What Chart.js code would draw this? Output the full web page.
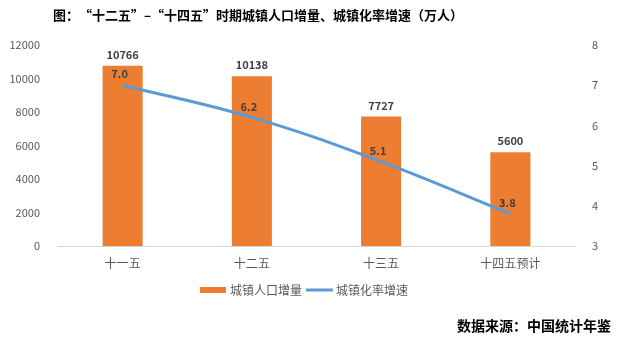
<!DOCTYPE html>
<html>

<head>
    <meta charset="utf-8">
    <title>城镇人口增量</title>
    <style>
        body { margin: 0; background: #fff; }
    </style>
</head>

<body>
    <canvas id="myChart1" width="618" height="339"></canvas>
    <script src="https://cdn.jsdelivr.net/npm/chart.js@4.4.6/dist/chart.umd.min.js"></script>
    <script>
        const categories = ["十一五", "十二五", "十三五", "十四五预计"]
        const popIncrease = [10766, 10138, 7727, 5600]
        const urbanRate = [7.0, 6.2, 5.1, 3.8]
        const leftTicks = [0, 2000, 4000, 6000, 8000, 10000, 12000]
        const rightTicks = [3, 4, 5, 6, 7, 8]

        const COLORS = {
            orange: "#ED7D31",
            blue: "#5B9BD5",
            tick: "#595959",
            label: "#404040",
        }
        const FONT = "'Noto Sans CJK SC', 'Microsoft YaHei', sans-serif"

        document.addEventListener("DOMContentLoaded", () => {
            const element = document.getElementById("myChart1")

            // title, data labels, legend and source note
            const extras = {
                id: "extras",
                afterDatasetsDraw(chart) {
                    const ctx = chart.ctx
                    ctx.save()
                    ctx.textAlign = "center"
                    ctx.textBaseline = "middle"

                    ctx.font = "bold 11px " + FONT
                    ctx.fillStyle = COLORS.label
                    chart.getDatasetMeta(0).data.forEach((bar, i) => {
                        ctx.fillText(String(popIncrease[i]), bar.x, bar.y - 11)
                    })
                    chart.getDatasetMeta(1).data.forEach((pt, i) => {
                        ctx.fillText(urbanRate[i].toFixed(1), pt.x - 3, pt.y - 11)
                    })

                    ctx.font = "bold 13px " + FONT
                    ctx.fillStyle = "#000"
                    ctx.fillText("图：“十二五”–“十四五”时期城镇人口增量、城镇化率增速（万人）", 258, 15)

                    ctx.textAlign = "right"
                    ctx.font = "bold 14px " + FONT
                    ctx.fillText("数据来源：中国统计年鉴", 611, 326)

                    // legend
                    ctx.textAlign = "left"
                    ctx.font = "12px " + FONT
                    ctx.fillStyle = COLORS.orange
                    ctx.fillRect(200, 287, 26, 6)
                    ctx.fillStyle = COLORS.tick
                    ctx.fillText(chart.data.datasets[0].label, 230, 290)
                    ctx.strokeStyle = COLORS.blue
                    ctx.lineWidth = 3
                    ctx.beginPath()
                    ctx.moveTo(306, 290)
                    ctx.lineTo(333, 290)
                    ctx.stroke()
                    ctx.fillText(chart.data.datasets[1].label, 336, 290)
                    ctx.restore()
                },
            }

            const config = {
                data: {
                    labels: categories,
                    datasets: [{
                        type: "bar",
                        label: "城镇人口增量",
                        data: popIncrease,
                        backgroundColor: COLORS.orange,
                        yAxisID: "y",
                        categoryPercentage: 1,
                        barPercentage: 0.31,
                        order: 2,
                    }, {
                        type: "line",
                        label: "城镇化率增速",
                        data: urbanRate,
                        borderColor: COLORS.blue,
                        backgroundColor: COLORS.blue,
                        borderWidth: 3,
                        pointRadius: 0,
                        tension: 0.4,
                        fill: false,
                        yAxisID: "y1",
                        order: 1,
                    }],
                },
                options: {
                    responsive: false,
                    animation: false,
                    layout: {
                        padding: { top: 45, bottom: 55, left: 0, right: 0 },
                    },
                    plugins: {
                        legend: { display: false },
                        title: { display: false },
                        tooltip: { enabled: false },
                    },
                    scales: {
                        x: {
                            grid: { display: false },
                            border: { display: true, color: "#D9D9D9" },
                            ticks: {
                                color: COLORS.tick,
                                font: { family: FONT, size: 12 },
                                padding: 2,
                            },
                            afterFit(scale) { scale.height = 38 },
                        },
                        y: {
                            position: "left",
                            min: 0,
                            max: 12000,
                            afterBuildTicks(scale) {
                                scale.ticks = leftTicks.map(v => ({ value: v }))
                            },
                            grid: { display: false },
                            border: { display: false },
                            ticks: {
                                color: COLORS.tick,
                                font: { family: FONT, size: 11 },
                                padding: 10,
                                callback: v => String(v),
                            },
                            afterFit(scale) { scale.width = 58 },
                        },
                        y1: {
                            position: "right",
                            min: 3,
                            max: 8,
                            afterBuildTicks(scale) {
                                scale.ticks = rightTicks.map(v => ({ value: v }))
                            },
                            grid: { display: false },
                            border: { display: false },
                            ticks: {
                                color: COLORS.tick,
                                font: { family: FONT, size: 11 },
                                padding: 9,
                            },
                            afterFit(scale) { scale.width = 43 },
                        },
                    },
                },
                plugins: [extras],
            }
            const chart = new Chart(element, config)
        })
    </script>
</body>

</html>
